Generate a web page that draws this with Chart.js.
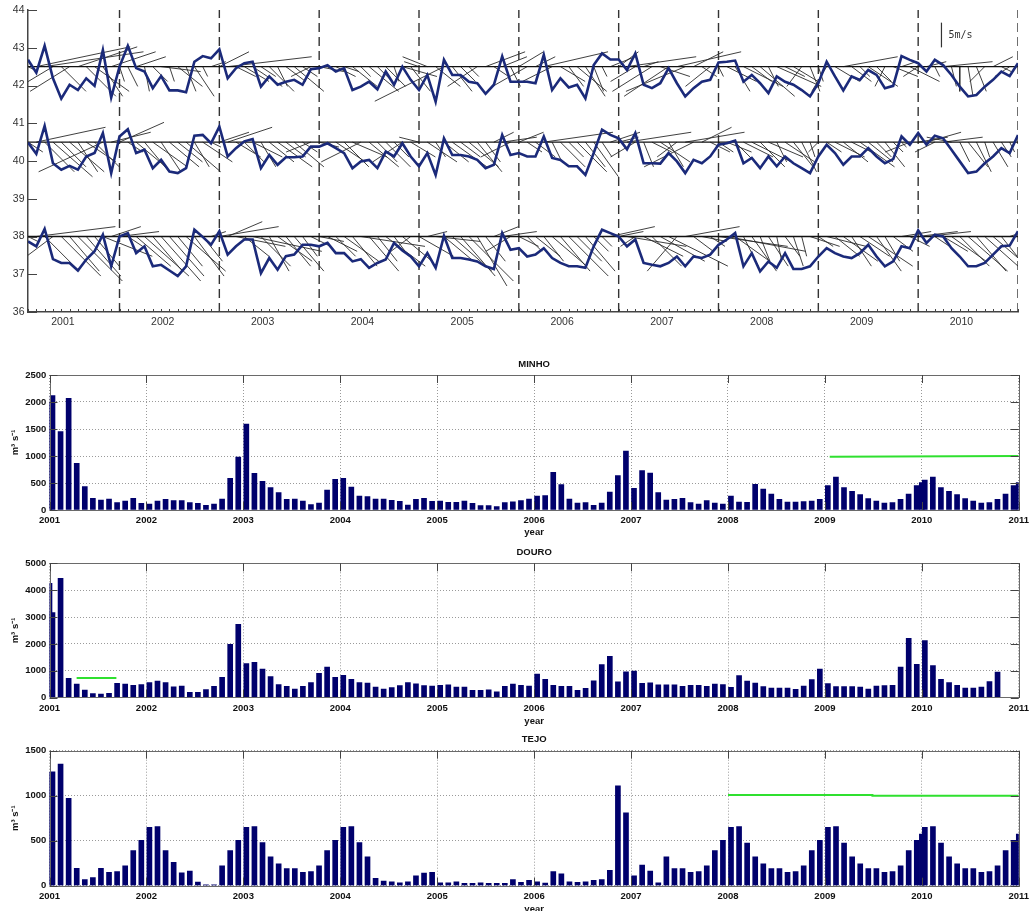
<!DOCTYPE html>
<html>
<head>
<meta charset="utf-8">
<title>Coastal wind and river discharge, 2001-2010</title>
<script src="https://cdn.jsdelivr.net/npm/chart.js@4.4.1/dist/chart.umd.min.js"></script>
<style>
  html, body { margin: 0; padding: 0; background: #fff; width: 1034px; height: 911px; overflow: hidden; }
  canvas { position: absolute; left: 0; }
  #wind  { top: 0; }
  #minho { top: 350px; }
  #douro { top: 540px; }
  #tejo  { top: 728px; }
</style>
</head>
<body>
<canvas id="wind"  width="1034" height="340"></canvas>
<canvas id="minho" width="1034" height="190"></canvas>
<canvas id="douro" width="1034" height="190"></canvas>
<canvas id="tejo"  width="1034" height="195"></canvas>
<script>
// ---------- wind panel: monthly series at three latitudes ----------
const firstSample = 2000.65;          // decimal year of the first monthly sample
const yearTicksWind = [2001, 2002, 2003, 2004, 2005, 2006, 2007, 2008, 2009, 2010];
const latTicks = [36, 37, 38, 39, 40, 41, 42, 43, 44];
const rowLatitudes = [42.5, 40.5, 38];

// index series drawn around each latitude line
const series1 = [
  42.68, 42.34, 43.05, 42.19, 41.65, 42.02, 41.88, 42.19, 41.99, 42.94, 41.68, 42.50,
  43.05, 42.46, 42.37, 41.93, 42.25, 41.87, 41.87, 41.82, 42.63, 42.78, 42.72, 42.96,
  42.19, 42.46, 42.59, 42.63, 41.97, 42.24, 42.02, 42.10, 42.15, 42.02, 42.43, 42.46,
  42.54, 42.37, 42.46, 41.88, 41.97, 42.10, 41.90, 42.37, 42.02, 42.50, 42.15, 41.88,
  42.28, 41.57, 42.68, 42.28, 42.28, 42.10, 42.06, 41.78, 42.02, 42.77, 42.10, 42.10,
  42.10, 42.06, 42.81, 41.88, 42.19, 41.95, 42.02, 41.66, 42.54, 42.85, 42.69, 42.69,
  42.41, 42.85, 42.02, 41.93, 42.06, 42.46, 42.06, 41.71, 41.93, 42.10, 42.15, 42.61,
  42.63, 42.66, 42.10, 42.28, 42.06, 41.80, 42.24, 42.10, 42.02, 41.88, 41.71, 42.06,
  42.63, 42.24, 41.87, 42.24, 42.15, 42.41, 42.28, 41.93, 41.99, 42.78, 42.68, 42.59,
  42.37, 42.68, 42.54, 42.28, 41.97, 41.71, 41.75, 41.97, 42.15, 42.37, 42.25, 42.59
];
const series2 = [
  40.49, 40.19, 40.93, 39.94, 39.77, 39.87, 39.77, 40.12, 40.21, 40.74, 39.68, 40.65,
  40.84, 40.21, 40.30, 39.81, 40.03, 39.72, 39.68, 39.81, 40.67, 40.69, 40.47, 40.91,
  40.12, 40.34, 40.52, 40.58, 39.81, 40.16, 39.90, 40.10, 40.10, 40.12, 40.38, 40.38,
  40.47, 40.34, 40.21, 39.81, 39.99, 40.03, 39.81, 40.25, 40.12, 40.47, 40.12, 39.86,
  40.21, 39.63, 40.60, 40.16, 40.16, 40.12, 40.03, 39.81, 39.90, 40.69, 40.16, 40.21,
  40.12, 40.12, 40.65, 40.08, 40.03, 39.86, 39.86, 39.63, 40.21, 40.83, 40.69, 40.60,
  40.31, 40.74, 39.94, 39.94, 39.93, 40.21, 39.99, 39.68, 40.03, 39.94, 40.12, 40.43,
  40.47, 40.54, 39.94, 40.08, 39.81, 40.12, 39.86, 40.12, 39.94, 39.81, 39.68, 40.12,
  40.43, 40.21, 39.90, 40.12, 40.12, 40.34, 40.12, 39.94, 40.05, 40.65, 40.43, 40.74,
  40.43, 40.67, 40.60, 40.30, 39.99, 39.68, 39.72, 39.94, 40.12, 40.34, 40.21, 40.69
];
const series3 = [
  37.87, 37.74, 38.20, 37.40, 37.30, 37.30, 37.10, 37.39, 37.61, 38.05, 37.21, 38.00,
  38.09, 37.56, 37.74, 37.21, 37.25, 37.10, 36.95, 37.21, 38.18, 37.99, 37.78, 38.14,
  37.52, 37.74, 37.92, 37.92, 37.03, 37.43, 37.12, 37.48, 37.52, 37.78, 37.78, 37.74,
  37.83, 37.56, 37.56, 37.34, 37.40, 37.17, 37.30, 37.39, 37.83, 37.63, 37.47, 37.21,
  37.56, 37.17, 38.02, 37.43, 37.43, 37.39, 37.34, 37.21, 37.14, 38.09, 37.65, 37.69,
  37.47, 37.52, 37.69, 37.43, 37.30, 37.21, 37.21, 37.17, 37.74, 38.18, 38.09, 38.00,
  37.74, 37.92, 37.30, 37.25, 37.21, 37.30, 37.47, 37.21, 37.47, 37.43, 37.52, 37.78,
  37.92, 38.09, 37.21, 37.56, 37.08, 37.34, 37.17, 37.56, 37.14, 37.14, 37.21, 37.47,
  37.69, 37.56, 37.47, 37.43, 37.56, 37.78, 37.47, 37.21, 37.34, 37.74, 37.69, 38.16,
  37.83, 38.05, 38.00, 37.69, 37.47, 37.21, 37.21, 37.30, 37.52, 37.74, 37.76, 38.14
];

// monthly wind components (m/s): u eastward, v northward
const u1 = [
  2, 19, 20, -10, 5, -8, 12, 6, 7, 4, 9, 1,
  2, 6, 1, 3, 8, 1, 5, 2, 4, 1, 3, 6,
  17, 4, 5, 6, 3, 5, 2, 4, 6, 3, -4, 5,
  2, 4, 3, 5, 2, 6, 3, 4, 1, 7, 4, -3,
  -5, 5, -14, 4, 3, 2, -6, 8, 3, 5, 2, 5,
  -7, 4, 13, -6, 5, 3, 6, 4, 2, 1, 5, 4,
  14, -5, 3, -8, 6, -9, 13, -12, 6, 3, -5, 1,
  6, 3, 8, 4, 7, 2, 9, 4, 5, -3, 2, 1,
  -3, 5, 11, 4, 2, 6, 3, -2, 5, 3, 6, -3,
  4, 1, 10, 1, 0, 1, 2, -3, 4, 2, -3, 1
];
const v1 = [
  -1, 4, 3, -6, -5, -5, 4, -6, -5, -6, 3, -3,
  -4, 2, -5, -3, -1, -3, -4, -5, -6, -2, 1, 3,
  2, -2, -3, -4, -2, -5, -4, -3, -5, -2, -2, -1,
  -1, -2, -1, -4, -2, -5, -3, -4, -3, -2, -5, 1,
  2, -4, -7, -5, -3, -2, -4, 3, -2, 2, -4, 3,
  -4, 2, 3, -3, -3, -4, -5, -6, -5, -2, 2, 3,
  2, -3, 1, -5, -2, -6, 3, -5, 3, -2, -4, -2,
  -3, -5, -4, -3, -6, -4, -4, -2, -3, -4, -5, -3,
  -5, -3, 2, -3, -2, -4, -3, -4, -2, 1, -3, -2,
  1, -2, 1, -4, -5, -6, -5, -3, 2, -1, -2, 1
];
const u2 = [
  3, 14, 6, 8, 5, 7, 4, 6, 5, -13, 8, 9,
  3, 6, 5, 7, 4, 6, 5, 7, 3, 6, 2, 6,
  9, 5, 4, 6, 3, 5, 7, 4, 6, 3, -5, 4,
  3, 6, 5, 7, -8, 6, 4, 5, 3, -6, 5, -4,
  6, 2, 5, 7, 4, 6, 5, 3, 4, 7, -6, 5,
  3, 4, 14, 2, 5, 3, 6, 4, 5, 2, 6, 4,
  13, -5, 2, 4, 6, 3, -4, 12, -10, 6, 4, 3,
  5, 4, 6, 8, 5, 7, 2, 6, 4, 3, 1, -2,
  3, 6, 5, 4, 7, 5, 3, 4, 2, 1, -5, 6,
  7, -4, 8, -5, 2, 4, 3, 1, 3, 2, 1, 2
];
const v2 = [
  -2, 3, -6, -7, -5, -6, -6, -4, -5, -6, 2, 4,
  -2, -5, -6, -5, -6, -5, -4, -6, -5, -4, -1, 2,
  3, -3, -4, -3, -5, -4, -5, -3, -5, -2, -2, -1,
  -2, -4, -5, -3, -4, -5, -4, -5, -3, -4, -3, 1,
  -4, -3, -4, -5, -3, -5, -6, -4, 2, 1, -3, 2,
  -2, -3, 2, -4, -5, -3, -6, -5, -7, -3, 2, 1,
  2, -3, -5, -2, -4, -5, -3, 2, -5, 3, -2, -2,
  -2, -4, -3, -4, -5, -3, -4, -4, -5, -6, -3, -2,
  -2, -3, -4, -2, -5, -4, -3, -5, -2, -1, -2, 1,
  2, -2, 1, 1, -4, -5, -6, -3, -5, -3, -2, 1
];
const u3 = [
  2, 16, 7, -8, 8, 6, 9, 7, 5, 10, 6, 8,
  3, 7, 9, 6, 8, 7, 5, 8, 6, 4, 3, 12,
  7, 10, 5, 14, 6, 4, 7, 5, 6, 3, 4, 5,
  6, 4, 7, 5, 13, 6, 4, 8, 3, 6, -4, 7,
  4, 9, 6, 8, 7, 9, 6, 4, 5, 7, -5, 4,
  3, 5, 4, 7, 6, 8, 5, 6, 3, 2, 9, 5,
  12, -3, 8, 6, 9, 12, -6, 11, 4, 5, 3, 14,
  16, 7, 3, 5, 2, 4, 1, 3, 2, 1, 6, 3,
  8, 5, 7, 4, 6, 9, 5, 3, 4, 6, 4, 8,
  9, 3, 5, 7, 6, 8, 6, 9, 7, 4, 6, 1
];
const v3 = [
  -1, 2, -7, -6, -8, -7, -9, -8, -6, -4, 2, 1,
  -2, -6, -8, -7, -9, -8, -6, -7, -8, -5, 1, 2,
  3, -2, -4, -3, -6, -7, -5, -6, -7, -4, -2, -1,
  -3, -4, -5, -6, -2, -7, -5, -6, -4, -5, -3, -4,
  1, -1, -5, -7, -8, -9, -10, -5, 2, 1, -3, -2,
  -3, -4, -5, -6, -7, -8, -5, -7, -3, -2, 2, 1,
  -2, -2, -4, -6, -5, -6, -7, 2, -3, -1, -2, -2,
  -3, -5, -6, -7, -5, -6, -5, -4, -6, -4, -2, -2,
  -2, -4, -5, -6, -4, -6, -7, -5, -3, 1, -2, 1,
  1, -2, -3, -5, -6, -7, -7, -8, -6, -5, 2, 1
];
const scaleBarSpeed = 5;              // m/s shown by the key stick
const scaleBarTime = 2009.80;
const scaleBarLat = 43.01;

// ---------- river discharge panels (m3/s, monthly) ----------
const barYears = [2001, 2002, 2003, 2004, 2005, 2006, 2007, 2008, 2009, 2010, 2011];
const sampleMonthOffset = 0.37;       // sampling day within each month, in months

const minhoMonthly = [
  2117, 1450, 2068, 864, 432, 216, 185, 204, 136, 167, 216, 123,
  111, 167, 198, 173, 173, 136, 123, 86, 111, 204, 586, 981,
  1593, 679, 531, 414, 321, 198, 204, 167, 99, 130, 370, 568,
  586, 426, 259, 247, 204, 204, 179, 160, 93, 198, 216, 160,
  167, 142, 142, 167, 123, 80, 80, 62, 136, 150, 173, 204,
  259, 265, 698, 469, 204, 130, 136, 86, 130, 333, 636, 1093,
  401, 728, 685, 321, 185, 198, 216, 136, 111, 173, 130, 111,
  259, 148, 142, 475, 389, 296, 198, 148, 148, 154, 167, 198,
  451, 611, 414, 346, 284, 210, 167, 130, 136, 198, 296, 451,
  556, 611, 414, 346, 284, 210, 167, 130, 136, 198, 296, 451
];
const minhoEdgeYears = [2001, 2010, 2011];
const minhoEdgeValues = [2000, 506, 506];
const minhoRefX = [2009.05, 2011];
const minhoRefY = [988, 1000];
const minhoTicks = [0, 500, 1000, 1500, 2000, 2500];

const douroMonthly = [
  3164, 4442, 720, 509, 285, 149, 136, 161, 533, 509, 459, 484,
  558, 620, 558, 409, 434, 199, 199, 298, 422, 757, 1985, 2730,
  1266, 1315, 1067, 782, 484, 422, 323, 422, 558, 906, 1141, 757,
  831, 682, 558, 546, 397, 323, 372, 450, 560, 520, 450, 432,
  457, 481, 395, 395, 272, 272, 296, 222, 420, 506, 457, 432,
  877, 679, 457, 420, 420, 272, 346, 630, 1235, 1543, 593, 963,
  988, 531, 556, 481, 481, 481, 420, 460, 460, 422, 509, 484,
  385, 820, 621, 547, 410, 360, 360, 360, 311, 435, 671, 1068,
  522, 410, 410, 410, 398, 323, 435, 447, 460, 1143, 2211, 1242,
  2124, 1193, 683, 559, 460, 360, 360, 398, 596, 957
];
const douroEdgeYears = [2001];
const douroEdgeValues = [4255];
const douroRefX = [2001.28, 2001.69];
const douroRefY = [735, 735];
const douroTicks = [0, 1000, 2000, 3000, 4000, 5000];

const tejoMonthly = [
  1265, 1350, 970, 193, 67, 89, 193, 148, 156, 222, 389, 504,
  648, 656, 389, 259, 144, 163, 41, 10, 10, 222, 389, 504,
  648, 656, 478, 322, 244, 189, 189, 148, 156, 222, 389, 504,
  648, 656, 478, 322, 81, 52, 44, 33, 44, 111, 141, 148,
  33, 33, 44, 26, 26, 33, 26, 26, 26, 67, 37, 59,
  44, 30, 156, 133, 44, 37, 44, 59, 67, 170, 1111, 811,
  111, 230, 163, 33, 322, 189, 189, 148, 156, 222, 389, 504,
  648, 656, 474, 322, 244, 189, 189, 148, 156, 222, 389, 504,
  648, 656, 474, 322, 244, 189, 189, 148, 156, 222, 389, 504,
  648, 656, 474, 322, 244, 189, 189, 148, 156, 222, 389, 504
];
const tejoEdgeYears = [2001, 2010, 2011];
const tejoEdgeValues = [1260, 574, 574];
const tejoRefX = [2008, 2009.49, 2009.49, 2011];
const tejoRefY = [1008, 1008, 1000, 1000];
const tejoTicks = [0, 500, 1000, 1500];

// ---------- shared look ----------
Chart.defaults.font.family = "'Liberation Sans', Arial, Helvetica, sans-serif";
Chart.defaults.color = '#111';
const stickScaleX = 0.0495;           // years of time axis per m/s
const stickScaleY = 0.131;            // degrees of latitude per m/s
const navyLine = '#1b2a7a';
const barBlue = '#00006c';
const refGreen = '#2fe02f';

const tSamples = series1.map((_, k) => firstSample + k / 12);
const xStart = tSamples[0];
const xEnd = tSamples[tSamples.length - 1];

function stickPoints(lat, u, v) {
  const pts = [];
  u.forEach((uk, k) => {
    const t = tSamples[k];
    pts.push({x: t, y: lat}, {x: t + uk * stickScaleX, y: lat + v[k] * stickScaleY}, {x: t, y: null});
  });
  return pts;
}
function seriesPoints(values) {
  return values.map((y, k) => ({x: tSamples[k], y}));
}
// dashed separators at every twelfth sample
const breakPoints = [];
tSamples.forEach((t, k) => {
  if (k % 12 === 11) breakPoints.push({x: t, y: latTicks[0]}, {x: t, y: latTicks[latTicks.length - 1]}, {x: t, y: null});
});
const baselinePoints = [];
rowLatitudes.forEach(lat => baselinePoints.push({x: xStart, y: lat}, {x: xEnd, y: lat}, {x: xEnd, y: null}));

const lineBase = {type: 'line', pointRadius: 0, tension: 0, spanGaps: false, clip: 0, fill: false};

// inner tick marks, monthly minor ticks and the key label for the wind panel
const windFrame = {
  id: 'windFrame',
  afterDatasetsDraw(chart) {
    const {ctx, chartArea: a, scales: {x, y}} = chart;
    ctx.save();
    ctx.strokeStyle = '#444';
    ctx.lineWidth = 1.2;
    ctx.beginPath();
    latTicks.forEach(v => {
      const py = Math.round(y.getPixelForValue(v)) + 0.5;
      ctx.moveTo(a.left, py); ctx.lineTo(a.left + 9, py);
    });
    ctx.stroke();
    ctx.lineWidth = 1;
    ctx.beginPath();
    tSamples.forEach(t => {
      const px = Math.round(x.getPixelForValue(t)) + 0.5;
      ctx.moveTo(px, a.bottom); ctx.lineTo(px, a.bottom - 3);
    });
    ctx.stroke();
    ctx.fillStyle = '#333';
    ctx.font = "10px 'DejaVu Sans Mono', monospace";
    ctx.textBaseline = 'middle';
    ctx.fillText(scaleBarSpeed + 'm/s', x.getPixelForValue(scaleBarTime) + 7,
      y.getPixelForValue(scaleBarLat + scaleBarSpeed * stickScaleY / 2));
    ctx.restore();
  }
};

new Chart(document.getElementById('wind'), {
  type: 'line',
  data: {
    datasets: [
      {...lineBase, data: seriesPoints(series1), borderColor: navyLine, borderWidth: 2.6},
      {...lineBase, data: seriesPoints(series2), borderColor: navyLine, borderWidth: 2.6},
      {...lineBase, data: seriesPoints(series3), borderColor: navyLine, borderWidth: 2.6},
      {...lineBase, data: baselinePoints, borderColor: '#111', borderWidth: 1.3},
      {...lineBase, data: stickPoints(rowLatitudes[0], u1, v1), borderColor: '#2a2a2a', borderWidth: 0.9},
      {...lineBase, data: stickPoints(rowLatitudes[1], u2, v2), borderColor: '#2a2a2a', borderWidth: 0.9},
      {...lineBase, data: stickPoints(rowLatitudes[2], u3, v3), borderColor: '#2a2a2a', borderWidth: 0.9},
      {...lineBase, data: [{x: scaleBarTime, y: scaleBarLat}, {x: scaleBarTime, y: scaleBarLat + scaleBarSpeed * stickScaleY}],
        borderColor: '#333', borderWidth: 1.2},
      {...lineBase, data: breakPoints, borderColor: '#333', borderWidth: 1.4, borderDash: [9, 5]}
    ]
  },
  options: {
    responsive: false, animation: false, events: [],
    layout: {padding: {left: 0, right: 16, top: 10, bottom: 0}},
    plugins: {legend: {display: false}, tooltip: {enabled: false}},
    scales: {
      x: {
        type: 'linear', min: xStart, max: xEnd,
        afterBuildTicks: s => { s.ticks = yearTicksWind.map(v => ({value: v})); },
        afterFit: s => { s.height = 28; },
        ticks: {callback: v => String(v), autoSkip: false, maxRotation: 0, padding: 3.4, font: {size: 10.5}, color: '#333'},
        grid: {display: false, drawTicks: false},
        border: {display: true, color: '#444', width: 1.5}
      },
      y: {
        type: 'linear', min: latTicks[0], max: latTicks[latTicks.length - 1],
        afterBuildTicks: s => { s.ticks = latTicks.map(v => ({value: v})); },
        afterFit: s => { s.width = 28; },
        ticks: {callback: v => String(v), padding: 3.5, font: {size: 10.5}, color: '#333'},
        grid: {display: false, drawTicks: false},
        border: {display: true, color: '#444', width: 1.5}
      }
    }
  },
  plugins: [windFrame]
});

// ---------- discharge bar panels ----------
function riverFrame(yTicks) {
  return {
    id: 'riverFrame',
    afterDatasetsDraw(chart) {
      const {ctx, chartArea: a, scales: {x, y}} = chart;
      ctx.save();
      ctx.strokeStyle = '#6a6a6a';
      ctx.lineWidth = 1;
      ctx.strokeRect(Math.round(a.left) + 0.5, Math.round(a.top) + 0.5,
        Math.round(a.right - a.left), Math.round(a.bottom - a.top));
      ctx.strokeStyle = '#444';
      ctx.beginPath();
      barYears.forEach(v => {
        const px = Math.round(x.getPixelForValue(v)) + 0.5;
        ctx.moveTo(px, a.top); ctx.lineTo(px, a.top + 8);
        ctx.moveTo(px, a.bottom); ctx.lineTo(px, a.bottom - 8);
      });
      yTicks.forEach(v => {
        const py = Math.round(y.getPixelForValue(v)) + 0.5;
        ctx.moveTo(a.left, py); ctx.lineTo(a.left + 8, py);
        ctx.moveTo(a.right, py); ctx.lineTo(a.right - 8, py);
      });
      ctx.stroke();
      ctx.restore();
    }
  };
}

function riverChart(id, spec, lay) {
  const bars = spec.monthly.map((v, k) => ({x: barYears[0] + (k + sampleMonthOffset) / 12, y: v}))
    .concat(spec.edgeYears.map((yr, i) => ({x: yr, y: spec.edgeValues[i]})));
  const ref = spec.refX.map((x, i) => ({x, y: spec.refY[i]}));
  const boldFont = {size: 9.5, weight: 'bold'};
  return new Chart(document.getElementById(id), {
    type: 'bar',
    data: {
      datasets: [
        {type: 'line', data: ref, borderColor: refGreen, borderWidth: 2, pointRadius: 0, tension: 0, clip: 0},
        {type: 'bar', data: bars, backgroundColor: barBlue, borderWidth: 0, barThickness: 5, clip: 0}
      ]
    },
    options: {
      responsive: false, animation: false, events: [],
      layout: {padding: {left: 0, right: 12.5, top: 0, bottom: 0}},
      plugins: {
        legend: {display: false}, tooltip: {enabled: false},
        title: {display: true, text: spec.title, fullSize: false, font: boldFont, color: '#111',
          padding: {top: lay.titleTop, bottom: lay.titleBottom}}
      },
      scales: {
        x: {
          type: 'linear', min: barYears[0], max: barYears[barYears.length - 1], offset: false,
          afterBuildTicks: s => { s.ticks = barYears.map(v => ({value: v})); },
          afterFit: s => { s.height = lay.xHeight; },
          ticks: {callback: v => String(v), autoSkip: false, maxRotation: 0, padding: lay.xPad, font: boldFont, color: '#111'},
          grid: {display: true, drawTicks: false, color: '#9a9a9a', lineWidth: 1, offset: false},
          border: {display: false, dash: [1, 2]},
          title: {display: true, text: 'year', font: boldFont, color: '#111', padding: {top: 0, bottom: lay.yearPad}}
        },
        y: {
          type: 'linear', min: spec.yTicks[0], max: spec.yTicks[spec.yTicks.length - 1],
          afterBuildTicks: s => { s.ticks = spec.yTicks.map(v => ({value: v})); },
          afterFit: s => { s.width = 49.5; },
          ticks: {callback: v => String(v), padding: 3.2, font: boldFont, color: '#111'},
          grid: {display: true, drawTicks: false, color: '#9a9a9a', lineWidth: 1},
          border: {display: false, dash: [1, 2]},
          title: {display: true, text: 'm³ s⁻¹', font: boldFont, color: '#111', padding: {top: 9.3, bottom: 0}}
        }
      }
    },
    plugins: [riverFrame(spec.yTicks)]
  });
}

riverChart('minho',
  {title: 'MINHO', monthly: minhoMonthly, edgeYears: minhoEdgeYears, edgeValues: minhoEdgeValues,
   refX: minhoRefX, refY: minhoRefY, yTicks: minhoTicks},
  {titleTop: 8.3, titleBottom: 5.3, xHeight: 30, xPad: 5, yearPad: 1.8});
riverChart('douro',
  {title: 'DOURO', monthly: douroMonthly, edgeYears: douroEdgeYears, edgeValues: douroEdgeValues,
   refX: douroRefX, refY: douroRefY, yTicks: douroTicks},
  {titleTop: 6.6, titleBottom: 5.3, xHeight: 32.3, xPad: 4.9, yearPad: 2.6});
riverChart('tejo',
  {title: 'TEJO', monthly: tejoMonthly, edgeYears: tejoEdgeYears, edgeValues: tejoEdgeValues,
   refX: tejoRefX, refY: tejoRefY, yTicks: tejoTicks},
  {titleTop: 6.0, titleBottom: 5.3, xHeight: 37.3, xPad: 4.9, yearPad: 8.3});
</script>
</body>
</html>
